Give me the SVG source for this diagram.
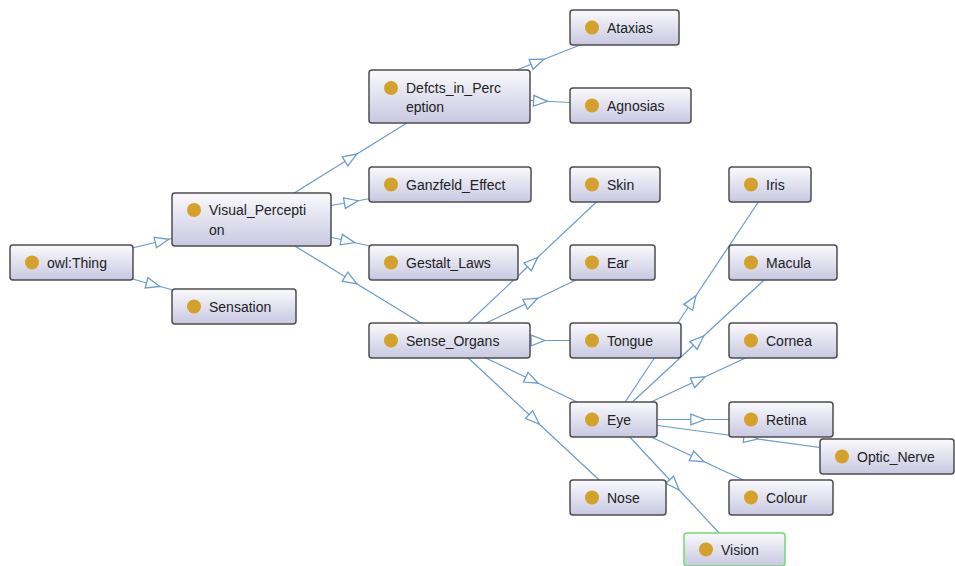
<svg xmlns="http://www.w3.org/2000/svg" width="955" height="566" viewBox="0 0 955 566">
<style>
.node rect{fill:url(#g);stroke:#4d4d4d;stroke-width:1.5}
.node.sel rect{stroke:#74d874}
.node circle{fill:#d4a12a}
.node text{font-family:"Liberation Sans",Arial,sans-serif;font-size:14px;fill:#222}
#edges path{fill:none;stroke:#6a9ccc;stroke-width:1.2;marker-mid:url(#tri)}
</style>
<defs>
<linearGradient id="g" x1="0" y1="0" x2="0" y2="1">
<stop offset="0" stop-color="#fafafd"/>
<stop offset="1" stop-color="#c8c8e2"/>
</linearGradient>
<marker id="tri" markerUnits="userSpaceOnUse" markerWidth="16" markerHeight="14" viewBox="-1 -1 15 12" refX="6" refY="5" orient="auto">
<path d="M0,0 L13,5 L0,10 Z" fill="#fff" stroke="#6a9ccc" stroke-width="1.2"/>
</marker>
</defs>
<rect width="955" height="566" fill="#fff"/>
<g id="edges">
<path d="M71.5,262.5 L161.5,241 L251.5,219.5"/>
<path d="M71.5,262.5 L152.75,284.5 L234,306.5"/>
<path d="M251.5,219.5 L350.5,158 L449.5,96.5"/>
<path d="M251.5,219.5 L350.75,202 L450,184.5"/>
<path d="M251.5,219.5 L347.5,241 L443.5,262.5"/>
<path d="M251.5,219.5 L350.5,280 L449.5,340.5"/>
<path d="M449.5,96.5 L537,62 L624.5,27.5"/>
<path d="M449.5,96.5 L540,101 L630.5,105.5"/>
<path d="M449.5,340.5 L532.25,262.5 L615,184.5"/>
<path d="M449.5,340.5 L531,301.5 L612.5,262.5"/>
<path d="M449.5,340.5 L537.5,340.5 L625.5,340.5"/>
<path d="M449.5,340.5 L531.5,380 L613.5,419.5"/>
<path d="M449.5,340.5 L533.75,419 L618,497.5"/>
<path d="M613.5,419.5 L691.75,302 L770,184.5"/>
<path d="M613.5,419.5 L698.25,341 L783,262.5"/>
<path d="M613.5,419.5 L698.25,380 L783,340.5"/>
<path d="M613.5,419.5 L697.25,419.5 L781,419.5"/>
<path d="M613.5,419.5 L697.25,458.5 L781,497.5"/>
<path d="M613.5,419.5 L750.25,438 L887,456.5"/>
<path d="M613.5,419.5 L674,484.5 L734.5,549.5"/>
</g>
<g id="owl_Thing" class="node"><rect x="10" y="245" width="123" height="35" rx="3"/><circle cx="32" cy="262.5" r="7"/><text x="47" y="267.5">owl:Thing</text></g>
<g id="Visual_Perception" class="node"><rect x="172" y="193" width="159" height="53" rx="3"/><circle cx="194" cy="210" r="7"/><text x="209" y="215">Visual_Percepti</text><text x="209" y="235">on</text></g>
<g id="Sensation" class="node"><rect x="172" y="289" width="124" height="35" rx="3"/><circle cx="194" cy="306.5" r="7"/><text x="209" y="311.5">Sensation</text></g>
<g id="Defects_in_Perception" class="node"><rect x="369" y="70" width="161" height="53" rx="3"/><circle cx="391" cy="88" r="7"/><text x="406" y="93">Defcts_in_Perc</text><text x="406" y="112">eption</text></g>
<g id="Ganzfeld_Effect" class="node"><rect x="369" y="167" width="162" height="35" rx="3"/><circle cx="391" cy="184.5" r="7"/><text x="406" y="189.5">Ganzfeld_Effect</text></g>
<g id="Gestalt_Laws" class="node"><rect x="369" y="245" width="149" height="35" rx="3"/><circle cx="391" cy="262.5" r="7"/><text x="406" y="267.5">Gestalt_Laws</text></g>
<g id="Sense_Organs" class="node"><rect x="369" y="323" width="161" height="35" rx="3"/><circle cx="391" cy="340.5" r="7"/><text x="406" y="345.5">Sense_Organs</text></g>
<g id="Ataxias" class="node"><rect x="570" y="10" width="109" height="35" rx="3"/><circle cx="592" cy="27.5" r="7"/><text x="607" y="32.5">Ataxias</text></g>
<g id="Agnosias" class="node"><rect x="570" y="88" width="121" height="35" rx="3"/><circle cx="592" cy="105.5" r="7"/><text x="607" y="110.5">Agnosias</text></g>
<g id="Skin" class="node"><rect x="570" y="167" width="90" height="35" rx="3"/><circle cx="592" cy="184.5" r="7"/><text x="607" y="189.5">Skin</text></g>
<g id="Ear" class="node"><rect x="570" y="245" width="85" height="35" rx="3"/><circle cx="592" cy="262.5" r="7"/><text x="607" y="267.5">Ear</text></g>
<g id="Tongue" class="node"><rect x="570" y="323" width="111" height="35" rx="3"/><circle cx="592" cy="340.5" r="7"/><text x="607" y="345.5">Tongue</text></g>
<g id="Eye" class="node"><rect x="570" y="402" width="87" height="35" rx="3"/><circle cx="592" cy="419.5" r="7"/><text x="607" y="424.5">Eye</text></g>
<g id="Nose" class="node"><rect x="570" y="480" width="96" height="35" rx="3"/><circle cx="592" cy="497.5" r="7"/><text x="607" y="502.5">Nose</text></g>
<g id="Iris" class="node"><rect x="729" y="167" width="82" height="35" rx="3"/><circle cx="751" cy="184.5" r="7"/><text x="766" y="189.5">Iris</text></g>
<g id="Macula" class="node"><rect x="729" y="245" width="108" height="35" rx="3"/><circle cx="751" cy="262.5" r="7"/><text x="766" y="267.5">Macula</text></g>
<g id="Cornea" class="node"><rect x="729" y="323" width="108" height="35" rx="3"/><circle cx="751" cy="340.5" r="7"/><text x="766" y="345.5">Cornea</text></g>
<g id="Retina" class="node"><rect x="729" y="402" width="104" height="35" rx="3"/><circle cx="751" cy="419.5" r="7"/><text x="766" y="424.5">Retina</text></g>
<g id="Colour" class="node"><rect x="729" y="480" width="104" height="35" rx="3"/><circle cx="751" cy="497.5" r="7"/><text x="766" y="502.5">Colour</text></g>
<g id="Optic_Nerve" class="node"><rect x="820" y="439" width="134" height="35" rx="3"/><circle cx="842" cy="456.5" r="7"/><text x="857" y="461.5">Optic_Nerve</text></g>
<g id="Vision" class="node sel"><rect x="684" y="533" width="101" height="33" rx="3"/><circle cx="706" cy="549.5" r="7"/><text x="721" y="554.5">Vision</text></g>
</svg>
